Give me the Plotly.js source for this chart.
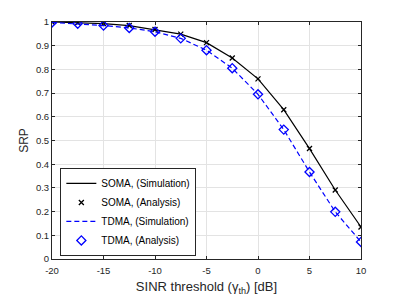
<!DOCTYPE html>
<html><head><meta charset="utf-8">
<script src="https://cdn.plot.ly/plotly-3.0.1.min.js"></script>
<style>html,body{margin:0;padding:0;background:#fff;}#chart{width:399px;height:299px;}</style>
</head><body><div id="chart"></div>
<script>
const sinr = [-20, -17.5, -15, -12.5, -10, -7.5, -5, -2.5, 0, 2.5, 5, 7.5, 10];
const somaSim = [1.0, 0.997, 0.993, 0.985, 0.968, 0.949, 0.913, 0.848, 0.760, 0.630, 0.466, 0.291, 0.135];
const somaAna = [1.0, 0.997, 0.993, 0.985, 0.968, 0.949, 0.913, 0.848, 0.760, 0.630, 0.466, 0.291, 0.135];
const tdmaSim = [0.998, 0.993, 0.985, 0.975, 0.959, 0.931, 0.881, 0.805, 0.695, 0.546, 0.367, 0.199, 0.072];
const tdmaAna = [0.998, 0.993, 0.985, 0.975, 0.959, 0.931, 0.881, 0.805, 0.695, 0.546, 0.367, 0.199, 0.072];
const xTicks = [-20, -15, -10, -5, 0, 5, 10];
const yTicks = [0, 0.1, 0.2, 0.3, 0.4, 0.5, 0.6, 0.7, 0.8, 0.9, 1];
const yTickText = ['0', '0.1', '0.2', '0.3', '0.4', '0.5', '0.6', '0.7', '0.8', '0.9', '1'];

const FONT = 'Liberation Sans';

const traces = [
  {x: sinr, y: somaSim, mode: 'lines', name: 'SOMA, (Simulation)', line: {color: '#000000', width: 1.2}},
  {x: sinr, y: somaAna, mode: 'markers', name: 'SOMA, (Analysis)', marker: {symbol: 'x-thin-open', color: '#000000', size: 5, line: {color: '#000000', width: 1.3}}},
  {x: sinr, y: tdmaSim, mode: 'lines', name: 'TDMA, (Simulation)', line: {color: '#0000ff', width: 1.2, dash: '5px,3px'}},
  {x: sinr, y: tdmaAna, mode: 'markers', name: 'TDMA, (Analysis)', marker: {symbol: 'diamond-open', color: '#0000ff', size: 7, line: {color: '#0000ff', width: 1.3}}}
];

const axisCommon = {
  showline: true, mirror: 'ticks', linecolor: '#262626', linewidth: 1,
  ticks: 'inside', ticklen: 3, tickcolor: '#262626',
  showgrid: true, gridcolor: '#e3e3e3', gridwidth: 1, zeroline: false,
  tickfont: {family: FONT, size: 9.5, color: '#262626'}
};

const layout = {
  width: 399, height: 299,
  margin: {l: 52, r: 38, t: 22, b: 40},
  paper_bgcolor: '#ffffff', plot_bgcolor: '#ffffff',
  showlegend: true,
  xaxis: Object.assign({}, axisCommon, {
    range: [-20, 10], tickvals: xTicks, ticktext: xTicks.map(String),
    ticklabelstandoff: 3,
    title: {text: 'SINR threshold (γ<sub>th</sub>) [dB]', font: {family: FONT, size: 13, color: '#262626'}, standoff: 6}
  }),
  yaxis: Object.assign({}, axisCommon, {
    range: [0, 1], tickvals: yTicks, ticktext: yTickText,
    title: {text: 'SRP', font: {family: FONT, size: 12, color: '#262626'}, standoff: 4}
  }),
  legend: {
    x: 0.027, y: 0.013, xanchor: 'left', yanchor: 'bottom',
    bgcolor: '#ffffff', bordercolor: '#262626', borderwidth: 1,
    font: {family: FONT, size: 10, color: '#000000'},
    tracegroupgap: 0, itemwidth: 30
  }
};

Plotly.newPlot('chart', traces, layout, {displayModeBar: false, staticPlot: true});
</script></body></html>
